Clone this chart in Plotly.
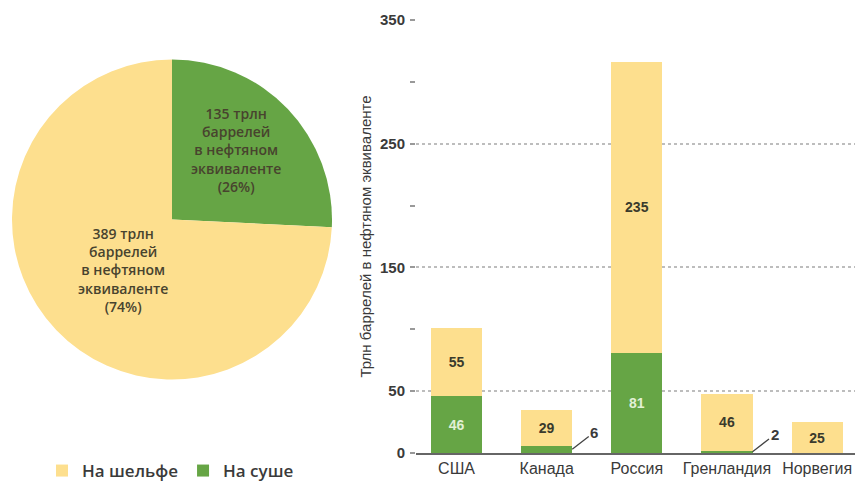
import plotly.graph_objects as go

# ---- data ----
pie_labels = ["На суше", "На шельфе"]
pie_values = [135, 389]
pie_pct = [26, 74]

countries = ["США", "Канада", "Россия", "Гренландия", "Норвегия"]
onshore = [46, 6, 81, 2, 0]
offshore = [55, 29, 235, 46, 25]

y_tickvals = [0, 50, 150, 250, 350]
y_ticktext = ["0", "50", "150", "250", "350"]

YELLOW = "#FDDF8E"
GREEN = "#66A545"
W, H = 859, 484

fig = go.Figure()

# ---- pie ----
fig.add_trace(go.Pie(
    labels=pie_labels, values=pie_values,
    marker=dict(colors=[GREEN, YELLOW], line=dict(width=0)),
    sort=False, direction="clockwise", rotation=0,
    textinfo="none", hoverinfo="label+value+percent",
    showlegend=False,
    domain=dict(x=[12 / W, 332 / W], y=[1 - 380 / H, 1 - 59 / H]),
))

# ---- bars ----
def fmt(vals, hide_small):
    return [("" if (v < hide_small) else str(v)) for v in vals]

fig.add_trace(go.Bar(
    x=countries, y=onshore, name="На суше",
    marker=dict(color=GREEN, line=dict(width=0)),
    text=fmt(onshore, 10), textposition="inside", insidetextanchor="middle",
    textfont=dict(color="#E2F0D6", size=14, family="Liberation Sans", weight="bold"),
    cliponaxis=False,
))
fig.add_trace(go.Bar(
    x=countries, y=offshore, name="На шельфе",
    marker=dict(color=YELLOW, line=dict(width=0)),
    text=fmt(offshore, 1), textposition="inside", insidetextanchor="middle",
    textfont=dict(color="#3A3A2C", size=14, family="Liberation Sans", weight="bold"),
    cliponaxis=False,
))

# small onshore values labelled with a leader line
for i, (c, v) in enumerate(zip(countries, onshore)):
    if 0 < v < 10:
        fig.add_annotation(
            x=i + 0.283, y=v / 2, xref="x", yref="y",
            text=str(v), showarrow=True, arrowhead=0, arrowwidth=1.3,
            arrowcolor="#444", ax=22, ay=-17,
            font=dict(size=15, color="#3A3A3A", family="Liberation Sans", weight="bold"),
        )

# pie labels
pie_pos = {"На суше": (236, 150), "На шельфе": (123, 270)}
for lab, v, p in zip(pie_labels, pie_values, pie_pct):
    px, py = pie_pos[lab]
    fig.add_annotation(
        x=px / W, y=1 - py / H, xref="paper", yref="paper",
        xanchor="center", yanchor="middle",
        text=f"{v} трлн<br>баррелей<br>в нефтяном<br>эквиваленте<br>({p}%)",
        showarrow=False, align="center",
        font=dict(size=14, color="#48432E", family="Open Sans", weight=600),
    )

fig.update_layout(
    width=W, height=H,
    margin=dict(l=0, r=0, t=0, b=0, autoexpand=False),
    paper_bgcolor="white", plot_bgcolor="white",
    barmode="stack", bargap=0.433,
    font=dict(family="Liberation Sans", color="#333"),
    showlegend=True,
    legend=dict(
        orientation="h", x=42 / W, y=1 - 471 / H, xanchor="left", yanchor="middle",
        traceorder="reversed", font=dict(size=17, color="#3A3A3A", family="Open Sans", weight=600),
        itemwidth=30, bgcolor="rgba(0,0,0,0)",
    ),
    xaxis=dict(
        domain=[416 / W, 855 / W], range=[-0.45, 4.42],
        showline=True, linecolor="#666", linewidth=2,
        showgrid=False, ticks="", zeroline=False, automargin=False,
        tickfont=dict(size=16, color="#3A3A3A", family="Liberation Sans"),
        fixedrange=True,
    ),
    yaxis=dict(
        domain=[1 - 453 / H, 1 - 20 / H], range=[0, 350],
        tickmode="array", tickvals=y_tickvals, ticktext=y_ticktext,
        ticks="outside", ticklen=5, tickcolor="#999", tickwidth=1.5,
        tickfont=dict(size=15, color="#3A3A3A", family="Liberation Sans Narrow, Liberation Sans", weight="bold"),
        ticklabelstandoff=2, automargin=False,
        showgrid=True, gridcolor="#BDBDBD", griddash="dot", gridwidth=1.5,
        zeroline=False, showline=False,
        minor=dict(tickmode="linear", tick0=0, dtick=50, ticks="outside", ticklen=5,
                   tickcolor="#999", tickwidth=1.5, showgrid=False),
        title=dict(text="Трлн баррелей в нефтяном эквиваленте",
                   font=dict(size=15, color="#3A3A3A", family="Liberation Sans"),
                   standoff=4),
        fixedrange=True,
    ),
)

fig.write_html(
    "out.html",
    config={"displayModeBar": False},
    post_script="document.body.style.margin='0';document.body.style.overflow='hidden';",
)
